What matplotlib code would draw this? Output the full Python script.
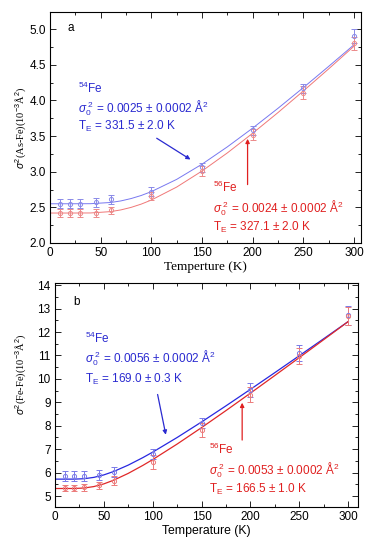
import numpy as np
import matplotlib
matplotlib.use("Agg")
import matplotlib.pyplot as plt
from matplotlib.ticker import MultipleLocator

plt.rcParams['font.family'] = ['Liberation Sans', 'DejaVu Sans']
plt.rcParams['mathtext.fontset'] = 'custom'
plt.rcParams['mathtext.rm'] = 'Liberation Sans'
plt.rcParams['mathtext.it'] = 'Liberation Sans:italic'

# ---- data ----
temps = [10, 20, 30, 45, 60, 100, 150, 200, 250, 300]

# panel a : As-Fe
asfe_54 = [2.55, 2.55, 2.55, 2.57, 2.61, 2.72, 3.06, 3.58, 4.17, 4.90]
asfe_54_err = [0.06, 0.06, 0.06, 0.06, 0.06, 0.06, 0.06, 0.06, 0.06, 0.10]
asfe_56 = [2.42, 2.42, 2.42, 2.42, 2.46, 2.66, 3.01, 3.52, 4.11, 4.80]
asfe_56_err = [0.06, 0.06, 0.06, 0.05, 0.05, 0.06, 0.07, 0.08, 0.09, 0.09]

# panel b : Fe-Fe
fefe_54 = [5.85, 5.85, 5.85, 5.90, 6.03, 6.80, 8.12, 9.52, 11.10, 12.72]
fefe_54_err = [0.20, 0.20, 0.20, 0.20, 0.20, 0.20, 0.22, 0.30, 0.35, 0.40]
fefe_56 = [5.35, 5.35, 5.38, 5.45, 5.66, 6.45, 7.82, 9.33, 10.98, 12.68]
fefe_56_err = [0.12, 0.12, 0.15, 0.15, 0.20, 0.30, 0.28, 0.32, 0.35, 0.40]

# fitted curves
fit_t = [0, 20, 40, 60, 70, 80, 90, 100, 125, 150, 175, 200, 225, 250, 275, 300]
asfe_54_fit = [2.550, 2.550, 2.551, 2.568, 2.590, 2.623, 2.666, 2.720, 2.892,
               3.105, 3.348, 3.611, 3.889, 4.179, 4.477, 4.780]
asfe_56_fit = [2.420, 2.420, 2.421, 2.440, 2.464, 2.499, 2.545, 2.602, 2.784,
               3.009, 3.263, 3.539, 3.829, 4.132, 4.442, 4.760]

fit_t2 = [0, 20, 30, 40, 50, 60, 75, 90, 100, 125, 150, 175, 200, 225, 250, 275, 300]
fefe_54_fit = [5.720, 5.721, 5.738, 5.796, 5.900, 6.044, 6.318, 6.639, 6.872, 7.497,
               8.161, 8.850, 9.554, 10.269, 10.991, 11.718, 12.450]
fefe_56_fit = [5.320, 5.321, 5.341, 5.404, 5.516, 5.672, 5.965, 6.307, 6.554, 7.217,
               7.920, 8.648, 9.392, 10.147, 10.910, 11.678, 12.450]

blue_txt = '#2a2ad0'
red_txt = '#e02020'

fig = plt.figure(figsize=(3.73, 5.46), dpi=100)
ax1 = fig.add_axes([0.134, 0.555, 0.834, 0.423])
ax2 = fig.add_axes([0.147, 0.0714, 0.813, 0.4106])


def style(ax):
    ax.tick_params(which='both', direction='in', top=True, right=True, labelsize=8.5, pad=3)
    ax.tick_params(which='major', length=4, width=0.6)
    ax.tick_params(which='minor', length=2, width=0.6)
    for s in ax.spines.values():
        s.set_linewidth(0.8)
    ax.xaxis.set_major_locator(MultipleLocator(50))
    ax.xaxis.set_minor_locator(MultipleLocator(25))


# ---- panel a ----
ax1.plot(fit_t, asfe_54_fit, color='#7878f0', lw=0.7)
ax1.plot(fit_t, asfe_56_fit, color='#f07878', lw=0.7)
ax1.errorbar(temps, asfe_54, yerr=asfe_54_err, fmt='o', mfc='none', mec='#8a8ae8',
             ecolor='#8a8ae8', ms=3, mew=0.7, elinewidth=0.7, capsize=2, capthick=0.7)
ax1.errorbar(temps, asfe_56, yerr=asfe_56_err, fmt='o', mfc='none', mec='#ec8a8a',
             ecolor='#ec8a8a', ms=3, mew=0.7, elinewidth=0.7, capsize=2, capthick=0.7)
ax1.set_xlim(0, 307)
ax1.set_ylim(2.0, 5.24)
ax1.yaxis.set_major_locator(MultipleLocator(0.5))
ax1.yaxis.set_minor_locator(MultipleLocator(0.25))
ax1.yaxis.set_major_formatter(matplotlib.ticker.FormatStrFormatter('%.1f'))
style(ax1)
ax1.set_xlabel('Temperture (K)', family='Liberation Serif', fontsize=9.5, labelpad=1)
ax1.set_ylabel(r'$\sigma^2$(As-Fe)(10$^{-3}$Å$^2$)', family='Liberation Serif',
               fontsize=7.5, labelpad=0)

ax1.text(0.055, 0.93, 'a', transform=ax1.transAxes, fontsize=8.5, va='center')
ax1.text(0.09, 0.671, r'$^{54}$Fe', transform=ax1.transAxes, color=blue_txt, fontsize=8.5, va='center')
ax1.text(0.09, 0.584, r'$\sigma_0^{\ 2}$ = 0.0025 ± 0.0002 Å$^2$', transform=ax1.transAxes,
         color=blue_txt, fontsize=8.5, va='center')
ax1.text(0.09, 0.506, r'T$_\mathrm{E}$ = 331.5 ± 2.0 K', transform=ax1.transAxes,
         color=blue_txt, fontsize=8.5, va='center')
ax1.annotate('', xy=(141, 3.15), xytext=(103, 3.49),
             arrowprops=dict(arrowstyle='-|>', color=blue_txt, lw=0.9, mutation_scale=6))

ax1.text(0.525, 0.242, r'$^{56}$Fe', transform=ax1.transAxes, color=red_txt, fontsize=8.5, va='center')
ax1.text(0.525, 0.152, r'$\sigma_0^{\ 2}$ = 0.0024 ± 0.0002 Å$^2$', transform=ax1.transAxes,
         color=red_txt, fontsize=8.5, va='center')
ax1.text(0.525, 0.069, r'T$_\mathrm{E}$ = 327.1 ± 2.0 K', transform=ax1.transAxes,
         color=red_txt, fontsize=8.5, va='center')
ax1.annotate('', xy=(195, 3.50), xytext=(195, 2.78),
             arrowprops=dict(arrowstyle='-|>', color=red_txt, lw=0.9, mutation_scale=6))

# ---- panel b ----
ax2.plot(fit_t2, fefe_54_fit, color='#2828e0', lw=0.9)
ax2.plot(fit_t2, fefe_56_fit, color='#e02828', lw=0.9)
ax2.errorbar(temps, fefe_54, yerr=fefe_54_err, fmt='o', mfc='none', mec='#7a7ae8',
             ecolor='#7a7ae8', ms=3, mew=0.7, elinewidth=0.7, capsize=2, capthick=0.7)
ax2.errorbar(temps, fefe_56, yerr=fefe_56_err, fmt='o', mfc='none', mec='#ec7a7a',
             ecolor='#ec7a7a', ms=3, mew=0.7, elinewidth=0.7, capsize=2, capthick=0.7)
ax2.set_xlim(0, 310)
ax2.set_ylim(4.53, 14.1)
ax2.yaxis.set_major_locator(MultipleLocator(1))
ax2.yaxis.set_minor_locator(MultipleLocator(0.5))
style(ax2)
ax2.set_xlabel('Temperature (K)', fontsize=8.8, labelpad=1)
ax2.set_ylabel(r'$\sigma^2$(Fe-Fe)(10$^{-3}$Å$^2$)', family='Liberation Serif',
               fontsize=7.5)
ax2.yaxis.set_label_coords(-0.085, 0.594)

ax2.text(0.06, 0.915, 'b', transform=ax2.transAxes, fontsize=8.5, va='center')
ax2.text(0.10, 0.75, r'$^{54}$Fe', transform=ax2.transAxes, color=blue_txt, fontsize=8.5, va='center')
ax2.text(0.10, 0.665, r'$\sigma_0^{\ 2}$ = 0.0056 ± 0.0002 Å$^2$', transform=ax2.transAxes,
         color=blue_txt, fontsize=8.5, va='center')
ax2.text(0.10, 0.567, r'T$_\mathrm{E}$ = 169.0 ± 0.3 K', transform=ax2.transAxes,
         color=blue_txt, fontsize=8.5, va='center')
ax2.annotate('', xy=(114, 7.5), xytext=(104.5, 9.45),
             arrowprops=dict(arrowstyle='-|>', color=blue_txt, lw=0.9, mutation_scale=6))

ax2.text(0.51, 0.255, r'$^{56}$Fe', transform=ax2.transAxes, color=red_txt, fontsize=8.5, va='center')
ax2.text(0.51, 0.165, r'$\sigma_0^{\ 2}$ = 0.0053 ± 0.0002 Å$^2$', transform=ax2.transAxes,
         color=red_txt, fontsize=8.5, va='center')
ax2.text(0.51, 0.080, r'T$_\mathrm{E}$ = 166.5 ± 1.0 K', transform=ax2.transAxes,
         color=red_txt, fontsize=8.5, va='center')
ax2.annotate('', xy=(191.5, 9.1), xytext=(191.5, 7.27),
             arrowprops=dict(arrowstyle='-|>', color=red_txt, lw=0.9, mutation_scale=6))

fig.savefig('out.png', dpi=100)
